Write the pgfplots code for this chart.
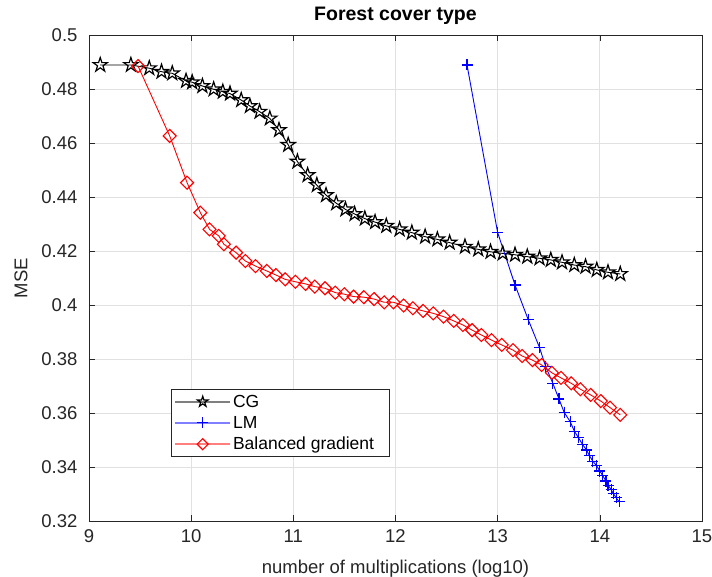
\documentclass[border=0pt]{standalone}
\usepackage{fontspec}
\setmainfont{Liberation Sans}
\usepackage{pgfplots}
\pgfplotsset{compat=1.18}
\usetikzlibrary{plotmarks}

\pgfdeclareplotmark{pstar}{%
 \pgfpathmoveto{\pgfpointpolar{90}{\pgfplotmarksize}}%
 \pgfpathlineto{\pgfpointpolar{126}{0.382\pgfplotmarksize}}%
 \pgfpathlineto{\pgfpointpolar{162}{\pgfplotmarksize}}%
 \pgfpathlineto{\pgfpointpolar{198}{0.382\pgfplotmarksize}}%
 \pgfpathlineto{\pgfpointpolar{234}{\pgfplotmarksize}}%
 \pgfpathlineto{\pgfpointpolar{270}{0.382\pgfplotmarksize}}%
 \pgfpathlineto{\pgfpointpolar{306}{\pgfplotmarksize}}%
 \pgfpathlineto{\pgfpointpolar{342}{0.382\pgfplotmarksize}}%
 \pgfpathlineto{\pgfpointpolar{18}{\pgfplotmarksize}}%
 \pgfpathlineto{\pgfpointpolar{54}{0.382\pgfplotmarksize}}%
 \pgfpathclose
 \pgfusepathqstroke
}
\pgfdeclareplotmark{mdiamond}{%
 \pgfpathmoveto{\pgfpoint{0pt}{\pgfplotmarksize}}%
 \pgfpathlineto{\pgfpoint{\pgfplotmarksize}{0pt}}%
 \pgfpathlineto{\pgfpoint{0pt}{-\pgfplotmarksize}}%
 \pgfpathlineto{\pgfpoint{-\pgfplotmarksize}{0pt}}%
 \pgfpathclose
 \pgfusepathqstroke
}

\definecolor{axgray}{RGB}{38,38,38}
\definecolor{gridgray}{RGB}{225,225,225}

\pgfplotsset{
  mlegend/.style={
    legend image code/.code={
      \draw[##1, draw opacity=0.5, line width=1.6pt] (0pt,0pt) -- (55pt,0pt);
      \draw[##1, mark size=5.5pt] plot coordinates {(27.5pt,0pt)};
    }
  }
}

\pgfplotstableread{
x y
9.11 0.4889
9.41 0.4889
9.59 0.4877
9.71 0.4864
9.815 0.4858
9.95 0.4830
10.01 0.4825
10.11 0.4811
10.22 0.4799
10.31 0.4790
10.38 0.4783
10.49 0.4759
10.575 0.4737
10.67 0.4716
10.77 0.4691
10.86 0.4648
10.95 0.4593
11.04 0.4531
11.14 0.4481
11.23 0.4444
11.32 0.4407
11.42 0.4377
11.51 0.4354
11.60 0.4337
11.70 0.4320
11.80 0.4307
11.91 0.4293
12.04 0.4280
12.16 0.4268
12.29 0.4253
12.41 0.4243
12.53 0.4231
12.68 0.4216
12.81 0.4206
12.93 0.4197
13.05 0.4191
13.17 0.4186
13.29 0.4179
13.41 0.4173
13.52 0.4167
13.63 0.4158
13.75 0.4148
13.86 0.4142
13.97 0.4130
14.08 0.4121
14.20 0.4115
}\cgdata

\pgfplotstableread{
x y
12.70 0.4889
13.00 0.4268
13.17 0.4074
13.30 0.3945
13.41 0.3842
13.47 0.3772
13.54 0.3710
13.60 0.3652
13.65 0.3603
13.71 0.3568
13.75 0.3533
13.79 0.3509
13.83 0.3484
13.87 0.3463
13.90 0.3441
13.93 0.3422
13.97 0.3404
14.00 0.3385
14.03 0.3367
14.06 0.3348
14.08 0.3333
14.11 0.3317
14.13 0.3303
14.16 0.3286
14.19 0.3271
}\lmdata

\pgfplotstableread{
x y
9.48 0.4885
9.79 0.4626
9.96 0.4453
10.09 0.4342
10.18 0.4280
10.27 0.4256
10.32 0.4225
10.44 0.4194
10.53 0.4163
10.63 0.4144
10.74 0.4126
10.83 0.4111
10.92 0.4095
11.02 0.4086
11.12 0.4078
11.21 0.4068
11.31 0.4062
11.41 0.4046
11.50 0.4040
11.59 0.4031
11.69 0.4029
11.79 0.4022
11.89 0.4010
11.98 0.4010
12.08 0.3998
12.17 0.3988
12.27 0.3978
12.37 0.3969
12.47 0.3957
12.57 0.3941
12.66 0.3926
12.75 0.3907
12.84 0.3889
12.94 0.3870
13.04 0.3852
13.15 0.3833
13.24 0.3811
13.34 0.3796
13.43 0.3778
13.53 0.3749
13.62 0.3730
13.72 0.3710
13.81 0.3688
13.91 0.3667
14.01 0.3644
14.10 0.3620
14.20 0.3593
}\bgdata

\begin{document}
\begin{tikzpicture}[x=1pt,y=1pt]
\path[use as bounding box] (-89,-56) rectangle (623,521);
\begin{axis}[
  scale only axis, width=613pt, height=486pt,
  at={(0,0)}, anchor=south west,
  xmin=9, xmax=15, ymin=0.32, ymax=0.5,
  xtick={9,10,11,12,13,14,15},
  ytick={0.32,0.34,0.36,0.38,0.40,0.42,0.44,0.46,0.48,0.50},
  scaled y ticks=false,
  yticklabel style={/pgf/number format/fixed,/pgf/number format/precision=2, xshift=-8pt},
  xticklabel style={yshift=-5pt},
  /pgf/number format/assume math mode=true,
  tick label style={font=\fontsize{18.5}{22}\selectfont, text=axgray},
  xtick pos=both, ytick pos=both,
  xticklabel pos=bottom, yticklabel pos=left,
  tick align=inside,
  major tick length=6pt,
  tick style={axgray, line width=0.6pt},
  axis line style={axgray, line width=0.7pt},
  grid=major,
  grid style={gridgray, line width=0.7pt},
  title={\textbf{Forest cover type}},
  title style={at={(axis description cs:0.5,1)}, anchor=center, yshift=13pt, font=\fontsize{19.5}{23}\selectfont},
  xlabel={number of multiplications (log10)},
  xlabel style={at={(axis description cs:0.5,0)}, anchor=center, yshift=-48pt, font=\fontsize{18.5}{22}\selectfont, text=axgray},
  ylabel={MSE},
  ylabel style={at={(axis description cs:-0.111,0.5)}, anchor=center, font=\fontsize{18.5}{22}\selectfont, text=axgray},
  legend style={at={(0.1338,0.2716)}, anchor=north west, draw=axgray, line width=0.8pt, fill=white,
    font=\fontsize{17.5}{21}\selectfont, row sep=3.5pt, inner xsep=3pt, inner ysep=3.5pt},
  legend cell align=left,
]
\addplot[black, line width=0.9pt, mark=pstar, mark size=7.5pt, mark options={line width=1.2pt}, mlegend] table[x=x,y=y] {\cgdata};
\addlegendentry{CG}
\addplot[blue, line width=0.9pt, mark=+, mark size=5.5pt, mark options={line width=1.1pt}, mlegend] table[x=x,y=y] {\lmdata};
\addlegendentry{LM}
\addplot[red, line width=0.9pt, mark=mdiamond, mark size=6.5pt, mark options={line width=1.1pt}, mlegend] table[x=x,y=y] {\bgdata};
\addlegendentry{Balanced gradient\hspace*{10pt}}
\end{axis}
\end{tikzpicture}
\end{document}
